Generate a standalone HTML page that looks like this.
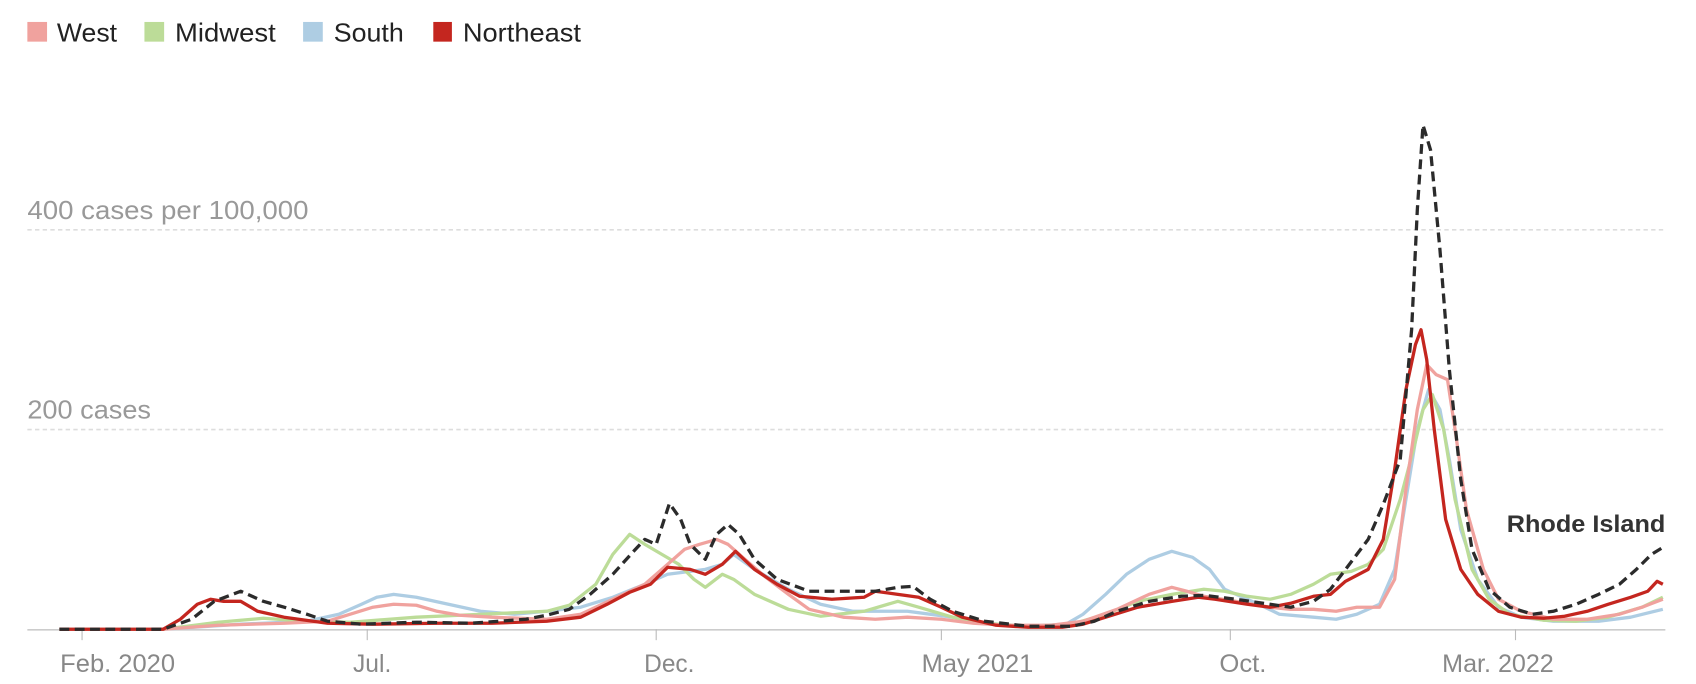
<!DOCTYPE html>
<html><head><meta charset="utf-8"><style>
html,body{margin:0;padding:0;background:#fff;}
svg{display:block;font-family:"Liberation Sans Narrow","Liberation Sans",sans-serif;}
</style></head><body>
<svg id="chart" width="1696" height="684" viewBox="0 0 1550 625" xmlns="http://www.w3.org/2000/svg">
<g id="legend">
<g><rect x="25" y="20" width="18" height="18" fill="#f0a29e"/><text x="52" y="38" font-size="24" fill="#222" textLength="55" lengthAdjust="spacingAndGlyphs">West</text></g>
<g><rect x="132" y="20" width="18" height="18" fill="#bcdc98"/><text x="160" y="38" font-size="24" fill="#222" textLength="92" lengthAdjust="spacingAndGlyphs">Midwest</text></g>
<g><rect x="277" y="20" width="18" height="18" fill="#aecde3"/><text x="305" y="38" font-size="24" fill="#222" textLength="64" lengthAdjust="spacingAndGlyphs">South</text></g>
<g><rect x="396" y="20" width="17" height="18" fill="#c4261f"/><text x="423" y="38" font-size="24" fill="#222" textLength="108" lengthAdjust="spacingAndGlyphs">Northeast</text></g>
</g>
<g id="grid"></g>
<g id="axis"></g>
<g id="series"></g>
<text x="1377" y="486" font-size="22" font-weight="bold" fill="#333" textLength="145" lengthAdjust="spacingAndGlyphs">Rhode Island</text>
</svg>
<script>
// days since Feb 1 2020, value = cases per 100,000 (7-day avg)
const westDays = [-12,43,72,107,130,142,154,165,177,188,200,217,246,264,281,298,310,319,327,336,342,351,362,374,385,403,420,437,455,472,490,513,530,548,565,577,585,594,611,629,640,652,664,675,687,695,701,707,712,717,723,727,733,742,750,762,779,797,814,826,837];
const westVals = [0,0,4,6,8,15,22,25,24,18,14,12,10,15,30,45,65,80,85,90,85,70,52,35,20,12,10,12,10,6,4,4,8,20,35,42,38,33,28,22,20,20,18,22,22,50,140,220,265,255,250,200,120,60,30,18,10,10,15,22,30];
const midwestDays = [-12,43,72,96,119,142,177,200,223,246,258,272,281,290,298,307,316,324,330,339,345,356,374,391,414,432,443,461,478,501,524,542,559,577,594,605,617,629,640,652,661,672,681,689,698,705,710,715,721,727,736,745,756,774,791,808,826,837];
const midwestVals = [0,0,7,11,8,7,12,14,16,18,24,45,75,95,85,75,65,50,42,55,50,35,20,13,18,28,22,12,6,3,5,15,28,35,40,38,33,30,35,45,55,58,65,80,130,180,220,235,200,130,60,30,15,9,8,12,22,32];
const southDays = [-12,43,84,119,136,148,156,165,177,194,211,229,246,264,281,298,310,322,330,339,345,356,374,391,408,437,461,478,501,521,530,542,553,565,577,588,597,605,623,634,652,664,675,687,695,701,707,713,719,724,730,739,750,762,779,803,820,837];
const southVals = [0,0,5,8,15,25,32,35,32,25,18,15,18,22,32,45,55,58,60,65,75,60,40,25,18,18,12,6,3,5,15,35,55,70,78,72,60,40,25,15,12,10,15,25,60,130,200,240,220,170,100,50,22,12,8,8,12,20];
const northeastDays = [-12,43,52,61,68,75,84,93,107,130,154,188,217,246,264,278,290,301,310,322,330,339,346,356,368,380,397,414,420,432,443,455,466,484,501,519,530,542,559,577,591,600,617,629,640,652,661,669,681,689,695,701,706,709,712,716,722,730,739,750,762,774,785,797,808,820,829,834,837];
const northeastVals = [0,0,10,25,30,28,28,18,12,6,5,6,6,8,12,25,37,45,62,60,55,65,78,60,45,33,30,32,38,35,32,22,12,4,2,2,5,12,22,28,32,30,25,22,26,33,35,48,60,90,160,240,285,300,270,200,110,60,35,18,12,11,13,18,25,32,38,48,45];
const riDays = [-12,43,58,70,84,96,107,119,130,148,177,206,235,246,258,269,281,293,298,304,311,317,322,330,336,342,348,356,368,385,403,420,432,440,449,461,478,501,524,536,548,565,582,594,611,629,640,652,661,669,681,689,698,704,707,710,714,719,724,730,736,745,756,768,779,791,803,814,823,831,837];
const riVals = [0,0,10,28,38,28,22,15,8,5,7,6,10,14,20,35,55,80,90,85,126,110,85,70,95,105,95,70,50,38,38,38,42,43,30,18,8,3,3,8,18,28,33,34,30,25,22,28,40,60,90,125,170,300,420,505,480,380,260,150,80,40,22,15,18,25,35,45,60,75,82];
const gridValues = [200, 400];
const gridLabels = ["200 cases", "400 cases per 100,000"];
const tickDays = [0, 151, 304, 455, 608, 759];
const tickLabels = ["Feb. 2020", "Jul.", "Dec.", "May 2021", "Oct.", "Mar. 2022"];

const NS = "http://www.w3.org/2000/svg";
const x = d => 75 + d * 1.726;
const y = v => 575 - v * 0.9125;
const labelShift = [-20, -13, -11, -18, -10, -67];
const labelWidth = [105, 35, 46, 102, 43, 102];
const gridLabelWidth = [113, 257];

const grid = document.getElementById('grid');
gridValues.forEach((v, i) => {
  const l = document.createElementNS(NS, 'line');
  
  
  l.setAttribute('x1', 25); l.setAttribute('x2', 1522);
  l.setAttribute('y1', y(v)); l.setAttribute('y2', y(v));
  l.setAttribute('stroke', '#ddd'); l.setAttribute('stroke-width', '1.5'); l.setAttribute('stroke-dasharray', '4,3');
  grid.appendChild(l);
  const t = document.createElementNS(NS, 'text');
  
  
  t.setAttribute('x', 25); t.setAttribute('y', y(v) - 10);
  t.setAttribute('font-size', '24'); t.setAttribute('fill', '#999');
  t.setAttribute('textLength', gridLabelWidth[i]); t.setAttribute('lengthAdjust', 'spacingAndGlyphs');
  t.textContent = gridLabels[i];
  grid.appendChild(t);
});

const axis = document.getElementById('axis');
const base = document.createElementNS(NS, 'line');


base.setAttribute('x1', 25); base.setAttribute('x2', 1522);
base.setAttribute('y1', 575.5); base.setAttribute('y2', 575.5);
base.setAttribute('stroke', '#ccc'); base.setAttribute('stroke-width', '1.5');
axis.appendChild(base);
tickDays.forEach((d, i) => {
  const tk = document.createElementNS(NS, 'line');
  
  
  tk.setAttribute('x1', x(d)); tk.setAttribute('x2', x(d));
  tk.setAttribute('y1', 575); tk.setAttribute('y2', 585);
  tk.setAttribute('stroke', '#bbb'); tk.setAttribute('stroke-width', '1');
  axis.appendChild(tk);
  const t = document.createElementNS(NS, 'text');
  
  
  t.setAttribute('x', x(d) + labelShift[i]); t.setAttribute('y', 614);
  t.setAttribute('font-size', '23'); t.setAttribute('fill', '#888');
  t.setAttribute('textLength', labelWidth[i]); t.setAttribute('lengthAdjust', 'spacingAndGlyphs');
  t.textContent = tickLabels[i];
  axis.appendChild(t);
});

const series = document.getElementById('series');
function drawLine(days, vals, color, width, dash, name) {
  const p = document.createElementNS(NS, 'path');
  
  
  p.setAttribute('d', days.map((d, i) => (i ? 'L' : 'M') + x(d).toFixed(1) + ',' + y(vals[i]).toFixed(1)).join(''));
  p.setAttribute('fill', 'none');
  p.setAttribute('stroke', color);
  p.setAttribute('stroke-width', width);
  p.setAttribute('stroke-linejoin', 'round');
  if (dash) p.setAttribute('stroke-dasharray', dash);
  series.appendChild(p);
}
drawLine(southDays, southVals, '#aecde3', 3, null, 'south-line');
drawLine(midwestDays, midwestVals, '#bcdc98', 3, null, 'midwest-line');
drawLine(westDays, westVals, '#f0a29e', 3, null, 'west-line');
drawLine(northeastDays, northeastVals, '#c4261f', 3, null, 'northeast-line');
drawLine(riDays, riVals, '#2b2b2b', 3, '9,5', 'rhode-island-line');
</script>
</body></html>
